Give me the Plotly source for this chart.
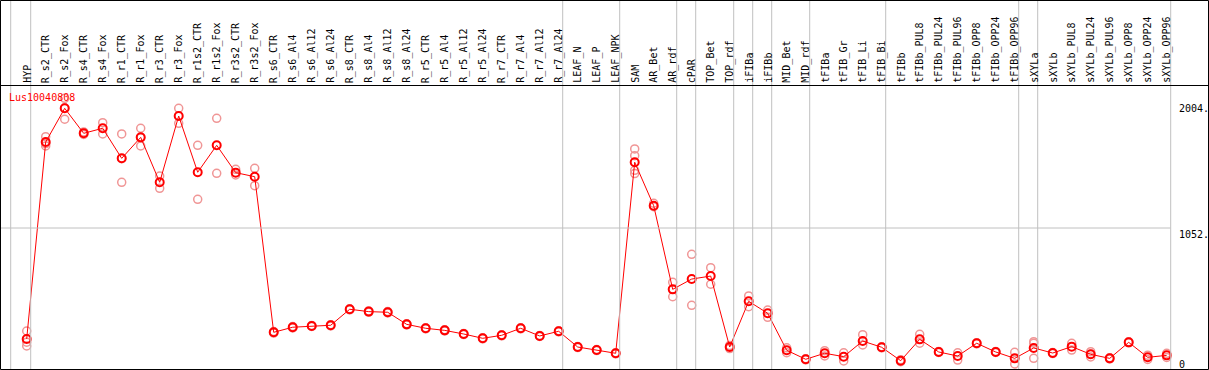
import plotly.graph_objects as go

W, H = 1209, 370

categories = ["HYP", "R_s2_CTR", "R_s2_Fox", "R_s4_CTR", "R_s4_Fox", "R_r1_CTR", "R_r1_Fox",
              "R_r3_CTR", "R_r3_Fox", "R_r1s2_CTR", "R_r1s2_Fox", "R_r3s2_CTR", "R_r3s2_Fox",
              "R_s6_CTR", "R_s6_Al4", "R_s6_Al12", "R_s6_Al24", "R_s8_CTR", "R_s8_Al4",
              "R_s8_Al12", "R_s8_Al24", "R_r5_CTR", "R_r5_Al4", "R_r5_Al12", "R_r5_Al24",
              "R_r7_CTR", "R_r7_Al4", "R_r7_Al12", "R_r7_Al24", "LEAF_N", "LEAF_P", "LEAF_NPK",
              "SAM", "AR_Bet", "AR_rdf", "cPAR", "TOP_Bet", "TOP_rdf", "iFIBa", "iFIBb",
              "MID_Bet", "MID_rdf", "tFIBa", "tFIB_Gr", "tFIB_Li", "tFIB_Bi", "tFIBb",
              "tFIBb_PUL8", "tFIBb_PUL24", "tFIBb_PUL96", "tFIBb_OPP8", "tFIBb_OPP24",
              "tFIBb_OPP96", "sXYLa", "sXYLb", "sXYLb_PUL8", "sXYLb_PUL24", "sXYLb_PUL96",
              "sXYLb_OPP8", "sXYLb_OPP24", "sXYLb_OPP96"]

# number of categories in each vertical-line separated group
group_sizes = [1, 28, 3, 3, 1, 2, 1, 1, 2, 4, 7, 1, 7]

means = [200, 1712, 1971, 1779, 1818, 1587, 1748, 1403, 1912, 1480, 1687, 1477, 1446,
         251, 290, 300, 305, 428, 410, 405, 312, 282, 266, 238, 205, 228, 282, 223, 259,
         138, 115, 90, 1557, 1223, 581, 660, 683, 138, 489, 397, 113, 44, 90, 64, 184, 136,
         33, 197, 100, 69, 167, 100, 51, 131, 92, 141, 82, 51, 174, 59, 74]

replicates = [[261, 175, 146], [1753, 1682, 1700], [2048, 1887, 1975], [1790, 1770],
              [1861, 1774], [1774, 1403, 1584], [1818, 1682, 1745], [1451, 1357],
              [1971, 1856], [1687, 1272], [1894, 1472], [1503, 1459], [1510, 1377],
              [245, 257], [285, 295], [296, 304], [300, 310], [424, 432], [405, 415],
              [400, 410], [308, 316], [278, 286], [262, 270], [234, 242], [201, 209],
              [224, 232], [278, 286], [219, 227], [255, 263], [134, 142], [111, 119],
              [86, 94], [1659, 1607, 1495, 1470], [1242, 1216], [635, 524], [850, 458],
              [747, 620], [150, 126], [530, 448], [422, 366], [132, 94], [40, 48],
              [110, 70], [94, 31], [233, 154], [132, 140], [25, 41], [236, 167],
              [96, 104], [94, 38], [163, 171], [96, 104], [97, 8], [179, 51, 167],
              [88, 96], [167, 115], [102, 62, 82], [47, 55], [170, 178], [75, 43], [90, 58]]

y_ticks = [2004, 1052, 0]
y_tick_labels = ["2004.", "1052.", "0"]
gene = "Lus10040808"

# pixel geometry
x_first, dx = 26.7, 19.0
y_zero_px, y_mid_px = 365.0, 228.0
ppu = (y_zero_px - y_mid_px) / 1052.0
xr0 = -x_first / dx
xr1 = xr0 + W / dx
yr0 = -(H - y_zero_px) / ppu
yr1 = yr0 + H / ppu

idx = list(range(len(categories)))
rx, ry = [], []
for i, reps in enumerate(replicates):
    for v in reps:
        rx.append(i)
        ry.append(v)

RED = "#ff0000"
PINK = "rgb(240,150,150)"
GRAY = "#c0c0c0"
FONT = "DejaVu Sans Mono"

fig = go.Figure()
fig.add_trace(go.Scatter(x=rx, y=ry, mode="markers",
                         marker=dict(symbol="circle-open", size=8, color=PINK,
                                     line=dict(width=1.5, color=PINK)),
                         hoverinfo="skip"))
fig.add_trace(go.Scatter(x=idx, y=means, mode="lines", line=dict(color=RED, width=1),
                         hoverinfo="skip"))
fig.add_trace(go.Scatter(x=idx, y=means, mode="markers",
                         marker=dict(symbol="circle-open", size=8, color=RED,
                                     line=dict(width=2, color=RED)),
                         hoverinfo="skip"))

def px_x(p):
    return p / W

def px_y(p):
    return 1 - p / H

shapes = []
bounds = [-16.0 / dx]
end = -1
for g in group_sizes:
    end += g
    bounds.append(end + 4.0 / dx)
for b in bounds:
    shapes.append(dict(type="line", xref="x", yref="paper", x0=b, x1=b, y0=0, y1=1,
                       line=dict(color=GRAY, width=1)))
shapes.append(dict(type="line", xref="paper", yref="y", x0=0, x1=px_x(1170.5),
                   y0=y_ticks[1], y1=y_ticks[1], line=dict(color=GRAY, width=1)))
shapes.append(dict(type="rect", xref="paper", yref="paper", x0=px_x(0.5), x1=px_x(1208.5),
                   y0=px_y(369.5), y1=px_y(0.5), line=dict(color="black", width=1)))
shapes.append(dict(type="line", xref="paper", yref="paper", x0=0, x1=1,
                   y0=px_y(85.5), y1=px_y(85.5), line=dict(color="black", width=1)))

annotations = []
for i, c in enumerate(categories):
    annotations.append(dict(x=i, xref="x", y=px_y(84), yref="paper", text=c,
                            textangle=-90, showarrow=False, xanchor="center",
                            yanchor="bottom", font=dict(family=FONT, size=10, color="black"),
                            borderpad=0))
tick_tops = [103, 229, 359]
for t, lab in zip(tick_tops, y_tick_labels):
    annotations.append(dict(x=px_x(1178), xref="paper", y=px_y(t - 1), yref="paper",
                            text=lab, showarrow=False, xanchor="left", yanchor="top",
                            font=dict(family=FONT, size=10, color="black"), borderpad=0))
annotations.append(dict(x=px_x(8), xref="paper", y=px_y(97), yref="paper", text=gene,
                        showarrow=False, xanchor="left", yanchor="middle",
                        font=dict(family=FONT, size=10, color=RED), borderpad=0))

fig.update_layout(width=W, height=H, autosize=False,
                  margin=dict(l=0, r=0, t=0, b=0, pad=0),
                  paper_bgcolor="white", plot_bgcolor="white", showlegend=False,
                  xaxis=dict(range=[xr0, xr1], visible=False, fixedrange=True),
                  yaxis=dict(range=[yr0, yr1], visible=False, fixedrange=True),
                  shapes=shapes, annotations=annotations)

fig.write_html("out.html", config={"displayModeBar": False},
               post_script="document.body.style.margin='0';document.body.style.overflow='hidden';")
